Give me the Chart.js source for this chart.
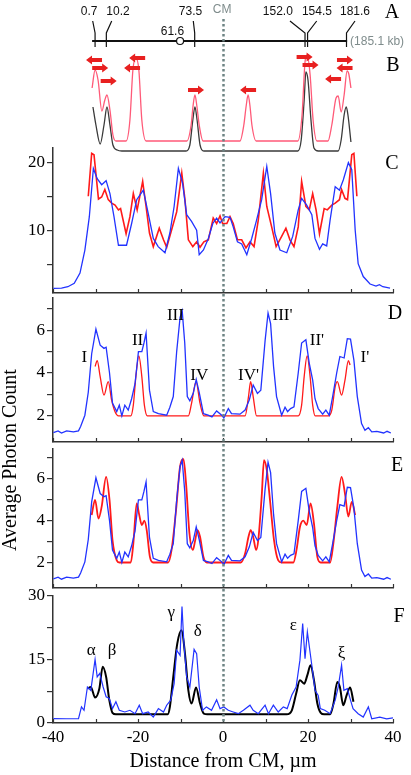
<!DOCTYPE html>
<html>
<head>
<meta charset="utf-8">
<script src="https://cdn.jsdelivr.net/npm/chart.js@4.4.0/dist/chart.umd.min.js"></script>
<style>
  html, body { margin: 0; padding: 0; background: #fff; overflow: hidden; }
  #wrap { position: relative; width: 411px; height: 775px; }
  #wrap canvas { position: absolute; left: 0; top: 0; }
</style>
</head>
<body>
<div id="wrap">
  <canvas id="panelC" width="411" height="775"></canvas>
  <canvas id="panelD" width="411" height="775"></canvas>
  <canvas id="panelE" width="411" height="775"></canvas>
  <canvas id="panelF" width="411" height="775"></canvas>
  <canvas id="panelAB" width="411" height="775"></canvas>
</div>
<script>
// ---- panel A: map (kb sites, positions in um along the stretched molecule)
const siteKb = ['0.7', '10.2', '73.5', '152.0', '154.5', '181.6'];
const siteAxisX = [-30.1, -27.45, -6.66, 19.3, 19.9, 29.06];
const siteTopX = [-30.66, -26.19, -6.99, 15.76, 22.05, 31.06];
const siteTextX = [-31.5, -24.7, -7.65, 12.9, 22.1, 31.06];
const markX = -10.1; // 61.6 kb
const mapX = [-30.8, 29.2];
const mapY = [10, 10];

// ---- panel B: predicted profiles + probe orientation arrows
const bPinkX = [-30.8, -30.1, -29.4, -28.5, -27.8, -27.3, -26.6, -25.9, -25.2, -22.8, -21.9, -21.2, -20.5, -19.8, -19.1, -18.1, -8.5, -7.5, -7.05, -6.6, -6.15, -5.6, -4.7, 4.0, 4.9, 5.45, 5.9, 6.35, 6.8, 7.8, 17.6, 18.6, 19.3, 19.8, 20.5, 21.2, 22.1, 24.7, 25.6, 26.6, 27.1, 27.8, 28.5, 29.2, 29.6, 30.1];
const bPinkY = [5.3, 7.1, 6.1, 3.0, 4.1, 4.6, 3.1, 0.6, 0, 0, 2.1, 7.1, 8.3, 7.1, 2.1, 0, 0, 1.6, 3.5, 4.6, 3.5, 1.6, 0, 0, 1.6, 3.5, 4.6, 3.5, 1.6, 0, 0, 2.6, 7.9, 8.6, 6.6, 2.1, 0, 0, 1.6, 4.3, 4.5, 2.9, 4.6, 7.0, 6.7, 5.3];
const bBlackX = [-30.6, -29.9, -28.9, -28.0, -27.3, -26.6, -25.9, -24.9, -23.8, -8.7, -7.8, -7.1, -6.6, -6.1, -5.4, -4.5, 17.6, 18.4, 19.1, 19.5, 20.0, 20.7, 21.4, 22.4, 27.1, 27.8, 28.5, 29.0, 29.4, 30.1];
const bBlackY = [3.4, 1.6, -0.3, 1.6, 3.4, 1.6, -0.4, -0.9, -1.0, -1.0, -0.4, 2.1, 3.4, 2.1, -0.4, -1.0, -1.0, 0.1, 4.1, 6.9, 6.1, 2.1, -0.7, -1.0, -1.0, 0.1, 2.6, 3.4, 2.6, -0.1];
const arrowX = [-30.35, -28.9, -26.9, -20.2, -21.4, -6.35, 5.9, 19.2, 20.6, 25.9, 28.7, 28.6];
const arrowY = [8.1, 7.3, 6.0, 8.3, 7.3, 5.1, 5.1, 8.4, 7.6, 6.2, 8.1, 7.3];
const arrowDir = [-1, 1, 1, -1, -1, 1, -1, 1, 1, -1, 1, -1];

// ---- panel C
const cBlueX = [-39.9, -38.0, -36.5, -35.0, -33.65, -32.5, -31.45, -30.5, -29.6, -28.55, -27.5, -26.6, -25.65, -24.6, -22.7, -21.5, -20.3, -18.75, -17.6, -16.4, -15.25, -13.65, -12.5, -11.5, -10.5, -9.5, -8.55, -7.4, -6.2, -5.6, -4.6, -3.45, -2.4, -1.5, -0.7, 0.47, 1.65, 2.4, 3.4, 4.4, 5.6, 6.75, 7.9, 9.1, 10.3, 11.2, 12.2, 13.4, 15.0, 16.4, 17.7, 18.5, 19.7, 20.9, 21.65, 22.7, 23.45, 24.4, 25.2, 26.4, 27.4, 28.3, 29.5, 30.3, 31.1, 31.8, 33.0, 34.6, 36.0, 36.8, 37.6, 39.3];
const cBlueY = [1.45, 1.5, 1.7, 2.2, 3.7, 7.1, 12.0, 19.1, 17.6, 16.7, 17.3, 15.4, 12.0, 7.8, 7.8, 11.0, 14.5, 15.9, 12.5, 8.8, 7.6, 6.7, 9.6, 13.5, 19.1, 16.9, 12.3, 11.3, 10.0, 6.4, 7.1, 8.8, 11.0, 11.8, 11.1, 12.0, 11.9, 10.5, 8.3, 8.0, 6.4, 8.8, 11.5, 14.5, 19.4, 15.4, 9.6, 7.1, 6.7, 9.1, 13.0, 14.7, 13.7, 12.3, 8.8, 7.2, 8.0, 7.7, 11.5, 16.4, 15.9, 17.4, 19.95, 18.9, 10.05, 5.1, 3.2, 2.1, 1.8, 2.0, 1.7, 1.5];
const cRedX = [-31.7, -30.9, -30.35, -29.3, -28.55, -27.8, -27.0, -26.2, -25.4, -24.6, -24.1, -22.8, -21.9, -21.1, -20.2, -18.9, -18.1, -17.3, -16.4, -15.0, -14.0, -13.25, -12.3, -10.9, -9.7, -8.95, -8.15, -7.1, -6.2, -5.4, -4.5, -3.45, -2.3, -1.5, -0.7, -0.1, 0.9, 1.65, 2.4, 3.4, 4.4, 5.4, 6.35, 7.3, 8.3, 9.5, 10.3, 11.45, 12.5, 13.8, 14.8, 15.75, 16.7, 17.7, 18.5, 19.5, 20.3, 21.1, 21.9, 22.7, 23.8, 24.55, 25.6, 26.4, 27.4, 27.9, 28.7, 29.3, 30.3, 30.8, 31.5];
const cRedY = [15.0, 21.3, 21.1, 14.6, 14.9, 16.0, 14.5, 14.0, 13.7, 13.0, 13.2, 9.5, 12.0, 15.4, 13.0, 17.2, 13.5, 9.6, 7.6, 10.3, 8.6, 7.5, 9.6, 12.7, 18.4, 14.5, 8.6, 7.6, 8.3, 7.5, 8.3, 8.6, 11.8, 11.0, 12.1, 11.0, 11.0, 12.0, 11.0, 8.6, 8.6, 7.4, 8.3, 7.6, 11.5, 18.4, 13.5, 10.5, 7.6, 9.1, 10.3, 8.6, 7.6, 10.5, 17.2, 13.5, 13.0, 15.4, 13.0, 9.5, 13.2, 13.0, 13.7, 14.0, 14.5, 16.0, 14.7, 14.5, 21.1, 21.3, 15.0];

// ---- panels D and E share the measured profile
const deBlueX = [-39.9, -38.8, -38.0, -36.8, -35.2, -34.0, -33.5, -32.5, -31.7, -30.9, -29.9, -28.9, -28.0, -27.5, -26.7, -26.0, -25.0, -24.4, -23.8, -23.1, -22.3, -21.5, -20.7, -19.9, -19.1, -18.6, -18.1, -17.3, -16.4, -15.2, -13.25, -12.5, -11.7, -10.9, -10.1, -9.6, -9.0, -8.4, -7.8, -7.0, -6.3, -5.6, -4.6, -3.5, -2.6, -1.5, -0.3, 0.2, 1.25, 2.0, 4.0, 5.2, 6.2, 7.1, 8.1, 8.9, 9.9, 10.6, 11.2, 11.9, 12.6, 13.8, 14.6, 15.2, 15.9, 16.7, 17.7, 18.5, 19.5, 20.3, 21.1, 21.65, 22.4, 23.45, 24.2, 25.0, 25.8, 26.75, 27.5, 28.5, 29.25, 30.0, 30.8, 31.6, 32.6, 33.4, 34.2, 35.0, 36.2, 37.8, 38.6, 39.5];
const deBlueY = [1.22, 1.3, 1.2, 1.3, 1.25, 1.3, 1.5, 2.03, 3.1, 4.9, 6.05, 5.3, 5.15, 5.2, 4.0, 2.6, 2.2, 2.5, 2.0, 2.5, 2.27, 2.8, 3.5, 5.0, 5.0, 5.4, 5.86, 3.2, 2.2, 2.1, 2.03, 2.4, 2.9, 5.0, 6.6, 6.9, 5.4, 2.9, 2.7, 3.05, 3.7, 3.1, 2.1, 2.03, 1.95, 2.23, 2.03, 1.9, 2.34, 2.1, 2.08, 2.27, 2.75, 3.44, 3.05, 3.2, 5.5, 6.8, 6.3, 4.3, 2.9, 2.03, 2.4, 2.2, 2.34, 2.42, 4.0, 5.4, 5.55, 4.45, 3.67, 2.8, 2.34, 2.08, 2.27, 2.03, 2.9, 4.0, 4.77, 4.7, 5.6, 5.58, 4.6, 2.9, 1.64, 1.33, 1.45, 1.25, 1.28, 1.2, 1.28, 1.2];
const dRedX = [-30.1, -29.6, -28.9, -28.0, -27.0, -26.2, -25.4, -24.6, -21.7, -21.1, -20.5, -19.8, -19.1, -18.5, -17.8, -8.15, -7.4, -6.35, -5.4, -4.5, 5.2, 6.0, 6.5, 7.1, 7.9, 17.7, 18.5, 19.1, 19.8, 20.5, 21.1, 21.7, 24.8, 25.6, 26.4, 26.9, 27.9, 28.7, 29.5, 29.9];
const dRedY = [4.3, 4.58, 3.83, 2.97, 3.6, 2.73, 2.19, 2.0, 2.0, 2.5, 3.83, 4.8, 3.83, 2.5, 2.0, 2.0, 2.58, 3.6, 2.58, 2.0, 2.0, 2.9, 3.6, 2.9, 2.0, 2.0, 2.5, 3.83, 4.8, 3.83, 2.5, 2.0, 2.0, 2.27, 3.36, 3.6, 2.97, 3.67, 4.58, 4.37];
const dLabelText = ['I', 'II', 'III', 'IV', "IV'", "III'", "II'", "I'"];
const dLabelX = [-32.6, -20.1, -11.2, -5.6, 6.0, 14.0, 22.1, 33.4];
const dLabelY = [4.72, 5.5, 6.69, 3.89, 3.89, 6.69, 5.53, 4.72];
const eRedX = [-30.9, -30.1, -29.3, -28.55, -27.5, -26.7, -26.0, -25.0, -24.4, -21.7, -21.1, -20.3, -19.7, -19.1, -18.5, -17.95, -17.2, -16.4, -12.9, -12.1, -11.05, -10.1, -9.3, -8.7, -7.9, -7.1, -6.6, -6.0, -5.4, -4.6, -3.8, 4.2, 5.2, 6.0, 6.5, 7.1, 7.8, 8.3, 9.1, 9.65, 10.3, 11.05, 12.0, 13.0, 13.8, 16.55, 17.3, 18.1, 18.9, 19.7, 20.6, 21.4, 22.2, 23.0, 25.2, 25.96, 26.9, 27.9, 28.7, 29.5, 30.3, 31.1];
const eRedY = [4.27, 5.0, 4.1, 4.67, 6.1, 5.0, 3.07, 2.1, 2.0, 2.0, 2.9, 4.83, 4.27, 3.79, 4.0, 3.55, 2.27, 2.0, 2.0, 2.6, 4.5, 6.6, 6.94, 5.8, 3.4, 2.6, 3.0, 3.55, 3.23, 2.27, 2.0, 2.0, 2.43, 3.23, 3.55, 3.23, 2.6, 3.07, 5.15, 6.9, 6.43, 5.0, 3.07, 2.1, 2.0, 2.0, 2.6, 3.7, 4.0, 3.79, 4.83, 3.87, 2.27, 2.0, 2.0, 2.9, 4.67, 6.1, 5.3, 4.2, 4.9, 4.27];

// ---- panel F
const fBlueX = [-39.9, -36.8, -34.0, -33.3, -32.7, -31.9, -31.1, -30.1, -29.6, -29.0, -28.2, -27.5, -26.75, -26.0, -25.2, -24.4, -23.1, -21.9, -20.7, -19.7, -18.9, -17.6, -16.4, -15.2, -14.0, -13.25, -12.3, -11.5, -10.9, -10.1, -9.65, -9.2, -8.55, -7.8, -6.8, -6.2, -5.6, -4.8, -3.9, -2.7, -1.5, -0.7, 0.2, 1.25, 2.4, 3.6, 4.8, 6.35, 7.1, 8.3, 9.9, 10.7, 11.85, 13.0, 14.2, 15.1, 16.2, 17.2, 18.1, 18.75, 19.3, 19.85, 20.9, 21.65, 22.4, 22.9, 23.95, 25.2, 26.4, 27.1, 27.9, 28.45, 29.25, 30.0, 30.6, 31.8, 33.0, 34.2, 35.0, 36.9, 38.5, 40.0];
const fBlueY = [1.03, 1.0, 1.0, 3.8, 3.0, 8.5, 7.7, 15.0, 10.9, 11.7, 8.5, 6.2, 5.8, 3.4, 5.0, 3.0, 2.6, 3.0, 2.2, 4.2, 2.2, 2.6, 1.4, 3.4, 2.6, 4.2, 5.4, 9.3, 17.2, 16.0, 27.5, 18.8, 10.9, 8.5, 17.4, 16.4, 8.5, 3.0, 3.8, 3.0, 5.5, 3.4, 3.8, 3.0, 2.6, 2.2, 3.0, 4.2, 3.0, 2.2, 4.2, 2.2, 4.2, 2.6, 3.8, 3.4, 6.6, 8.5, 14.85, 23.5, 15.2, 21.5, 13.65, 7.7, 6.5, 3.4, 3.0, 2.2, 5.4, 8.5, 13.65, 7.7, 8.1, 5.4, 3.4, 2.2, 1.4, 3.8, 1.0, 1.4, 1.0, 1.2];
const fFitX = [-31.9, -31.1, -30.1, -29.1, -28.3, -27.5, -26.75, -26.0, -25.2, -13.0, -12.5, -11.7, -10.75, -9.75, -8.95, -8.15, -7.4, -6.35, -5.4, -4.5, -3.7, 15.0, 16.2, 17.2, 18.1, 19.1, 19.85, 20.6, 21.4, 22.2, 23.0, 23.8, 25.2, 26.0, 26.9, 27.5, 28.3, 29.1, 29.9, 30.7];
const fFitY = [8.1, 8.5, 6.0, 8.1, 13.3, 10.9, 5.4, 2.4, 2.05, 2.05, 3.8, 10.9, 18.8, 21.9, 16.4, 7.7, 4.6, 8.4, 4.6, 2.2, 2.05, 2.05, 3.0, 6.9, 10.1, 9.3, 11.3, 13.65, 10.1, 4.6, 2.4, 2.05, 2.05, 4.6, 9.7, 8.5, 4.2, 6.6, 8.4, 5.0];
const fLabelText = ['α', 'β', 'γ', 'δ', 'ε', 'ξ'];
const fLabelX = [-31.0, -26.1, -12.2, -5.96, 16.55, 27.9];
const fLabelY = [17.2, 17.2, 26.0, 21.7, 23.1, 16.4];

const SERIF = "'Liberation Serif', 'Times New Roman', serif";
const SANS = "'Liberation Sans', Arial, sans-serif";
const BLUE = '#2233ff';
const RED = '#ff1a1a';
const AXIS = '#333';

function pts(xs, ys) {
  return xs.map((x, i) => ({x: x, y: ys[i]}));
}

function line(data, color, width, smooth) {
  return {
    data: data,
    borderColor: color,
    borderWidth: width,
    pointRadius: 0,
    fill: false,
    tension: smooth ? 0.4 : 0,
    cubicInterpolationMode: smooth ? 'monotone' : 'default'
  };
}

// short tick marks pointing up from the bottom axis
const innerTicks = {
  id: 'innerTicks',
  afterDraw(chart) {
    const x = chart.scales.x, ctx = chart.ctx, bottom = chart.chartArea.bottom;
    ctx.save();
    ctx.strokeStyle = AXIS;
    ctx.lineWidth = 1.2;
    x.ticks.forEach(t => {
      const px = Math.round(x.getPixelForValue(t.value)) + 0.5;
      ctx.beginPath();
      ctx.moveTo(px, bottom);
      ctx.lineTo(px, bottom - 4);
      ctx.stroke();
    });
    ctx.restore();
  }
};

function textPlugin(id, items) {
  return {
    id: id,
    afterDraw(chart) {
      const ctx = chart.ctx;
      items.forEach(it => {
        const px = it.px !== undefined ? it.px : chart.scales.x.getPixelForValue(it.x);
        const py = it.py !== undefined ? it.py : chart.scales.y.getPixelForValue(it.y);
        ctx.save();
        ctx.font = it.font;
        ctx.fillStyle = it.color || '#000';
        ctx.textAlign = it.align || 'center';
        ctx.textBaseline = 'middle';
        ctx.translate(px, py);
        if (it.rot) ctx.rotate(it.rot);
        ctx.fillText(it.text, 0, 0);
        ctx.restore();
      });
    }
  };
}

function yScale(min, max, tickVals, labelVals) {
  return {
    min: min,
    max: max,
    afterFit: s => { s.width = 53; },
    afterBuildTicks: s => { s.ticks = tickVals.map(v => ({value: v})); },
    border: {display: true, color: AXIS, width: 1.5},
    grid: {drawOnChartArea: false, drawTicks: true, tickLength: 6, color: AXIS, lineWidth: 1.2},
    ticks: {
      color: '#000',
      padding: 2,
      font: {family: SERIF, size: 17},
      callback: v => labelVals.includes(v) ? v : ''
    }
  };
}

function xScale(showLabels) {
  return {
    type: 'linear',
    min: -40,
    max: 40,
    afterFit: s => { s.height = showLabels ? 52 : 0; },
    border: {display: true, color: AXIS, width: 1.5},
    grid: {drawOnChartArea: false, drawTicks: false},
    ticks: {
      display: showLabels,
      stepSize: 10,
      padding: 4,
      maxRotation: 0,
      autoSkip: false,
      color: '#000',
      font: {family: SERIF, size: 17},
      callback: v => v % 20 === 0 ? v : ''
    },
    title: {
      display: showLabels,
      text: 'Distance from CM, µm',
      color: '#000',
      font: {family: SERIF, size: 20},
      padding: {top: 0, bottom: 1}
    }
  };
}

function panel(id, top, bottom, datasets, y, showX, extra) {
  return new Chart(document.getElementById(id), {
    type: 'line',
    data: {datasets: datasets},
    options: {
      responsive: false,
      animation: false,
      devicePixelRatio: 1,
      layout: {padding: {left: 0, right: 18, top: top, bottom: 775 - bottom - (showX ? 52 : 0)}},
      plugins: {legend: {display: false}, tooltip: {enabled: false}},
      scales: {x: xScale(showX), y: y}
    },
    plugins: [innerTicks].concat(extra)
  });
}

const letterFont = '20px ' + SERIF;
const labelFont = '17px ' + SERIF;

panel('panelC', 148, 293, [
  line(pts(cBlueX, cBlueY), BLUE, 1.3, false),
  line(pts(cRedX, cRedY), RED, 1.6, false)
], yScale(0.78, 22.1, [5, 10, 15, 20], [10, 20]), false, [
  textPlugin('lettersC', [{text: 'C', px: 392, py: 164, font: letterFont}])
]);

panel('panelD', 298, 442, [
  line(pts(deBlueX, deBlueY), BLUE, 1.3, false),
  line(pts(dRedX, dRedY), RED, 1.3, true)
], yScale(0.78, 7.5, [2, 3, 4, 5, 6, 7], [2, 4, 6]), false, [
  textPlugin('lettersD', [{text: 'D', px: 395, py: 314, font: letterFont}].concat(
    dLabelText.map((t, i) => ({text: t, x: dLabelX[i], y: dLabelY[i], font: labelFont}))))
]);

panel('panelE', 449, 588, [
  line(pts(deBlueX, deBlueY), BLUE, 1.3, false),
  line(pts(eRedX, eRedY), RED, 1.8, true)
], yScale(0.78, 7.43, [2, 3, 4, 5, 6, 7], [2, 4, 6]), false, [
  textPlugin('lettersE', [
    {text: 'E', px: 397, py: 466, font: letterFont},
    {text: 'Average Photon Count', px: 11, py: 460, font: '20px ' + SERIF, rot: -Math.PI / 2}
  ])
]);

panel('panelF', 596, 723, [
  line(pts(fBlueX, fBlueY), BLUE, 1.2, false),
  line(pts(fFitX, fFitY), '#000', 2, true)
], yScale(0, 30, [0, 7.5, 15, 22.5, 30], [0, 15, 30]), true, [
  textPlugin('lettersF', [{text: 'F', px: 399, py: 617, font: letterFont}].concat(
    fLabelText.map((t, i) => ({text: t, x: fLabelX[i], y: fLabelY[i], font: labelFont}))))
]);

// ---- panels A and B (schematic, drawn on a hidden um scale)
const mapMarks = {
  id: 'mapMarks',
  afterDatasetsDraw(chart) {
    const ctx = chart.ctx, x = chart.scales.x, y = chart.scales.y;
    ctx.save();
    ctx.strokeStyle = '#111';
    ctx.lineWidth = 1.2;
    siteKb.forEach((kb, i) => {
      ctx.beginPath();
      ctx.moveTo(x.getPixelForValue(siteTopX[i]), y.getPixelForValue(12.0));
      ctx.lineTo(x.getPixelForValue(siteAxisX[i]), y.getPixelForValue(10.8));
      ctx.lineTo(x.getPixelForValue(siteAxisX[i]), y.getPixelForValue(9.4));
      ctx.stroke();
    });
    ctx.font = '12px ' + SANS;
    ctx.fillStyle = '#111';
    ctx.textAlign = 'center';
    ctx.textBaseline = 'middle';
    siteKb.forEach((kb, i) => ctx.fillText(kb, x.getPixelForValue(siteTextX[i]), y.getPixelForValue(12.9)));
    ctx.fillText('61.6', x.getPixelForValue(-11.9), y.getPixelForValue(10.9));
    ctx.beginPath();
    ctx.arc(x.getPixelForValue(markX), y.getPixelForValue(10), 3.5, 0, Math.PI * 2);
    ctx.fillStyle = '#fff';
    ctx.fill();
    ctx.stroke();
    ctx.fillStyle = '#7f8c8c';
    ctx.textAlign = 'left';
    ctx.fillText('(185.1 kb)', x.getPixelForValue(29.9), y.getPixelForValue(9.9));
    ctx.textAlign = 'center';
    ctx.fillText('CM', x.getPixelForValue(-0.2), y.getPixelForValue(13.1));

    // probe orientation arrows
    ctx.fillStyle = '#e82020';
    arrowX.forEach((ax, i) => {
      const cx = x.getPixelForValue(ax), cy = y.getPixelForValue(arrowY[i]), d = arrowDir[i];
      ctx.beginPath();
      ctx.moveTo(cx - 8 * d, cy - 2);
      ctx.lineTo(cx + 2 * d, cy - 2);
      ctx.lineTo(cx + 2 * d, cy - 4.5);
      ctx.lineTo(cx + 8 * d, cy);
      ctx.lineTo(cx + 2 * d, cy + 4.5);
      ctx.lineTo(cx + 2 * d, cy + 2);
      ctx.lineTo(cx - 8 * d, cy + 2);
      ctx.closePath();
      ctx.fill();
    });
    ctx.restore();
  },
  afterDraw(chart) {
    // dotted centromere line through all panels
    const ctx = chart.ctx, px = Math.round(chart.scales.x.getPixelForValue(0)) + 0.5;
    ctx.save();
    ctx.strokeStyle = '#6e8484';
    ctx.lineWidth = 2.5;
    ctx.setLineDash([2.5, 2.5]);
    ctx.beginPath();
    ctx.moveTo(px, 19);
    ctx.lineTo(px, 723);
    ctx.stroke();
    ctx.restore();
  }
};

new Chart(document.getElementById('panelAB'), {
  type: 'line',
  data: {
    datasets: [
      line(pts(bPinkX, bPinkY), '#ff5a78', 1.3, true),
      line(pts(bBlackX, bBlackY), '#3a3a3a', 1.3, true),
      line(pts(mapX, mapY), '#111', 1.8, false)
    ]
  },
  options: {
    responsive: false,
    animation: false,
    devicePixelRatio: 1,
    layout: {padding: {left: 53, right: 18, top: 0, bottom: 615}},
    plugins: {legend: {display: false}, tooltip: {enabled: false}},
    scales: {
      x: {type: 'linear', min: -40, max: 40, display: false},
      y: {min: -1.9, max: 14.1, display: false}
    }
  },
  plugins: [mapMarks, textPlugin('lettersAB', [
    {text: 'A', px: 392, py: 13, font: letterFont},
    {text: 'B', px: 393, py: 66, font: letterFont}
  ])]
});
</script>
</body>
</html>
